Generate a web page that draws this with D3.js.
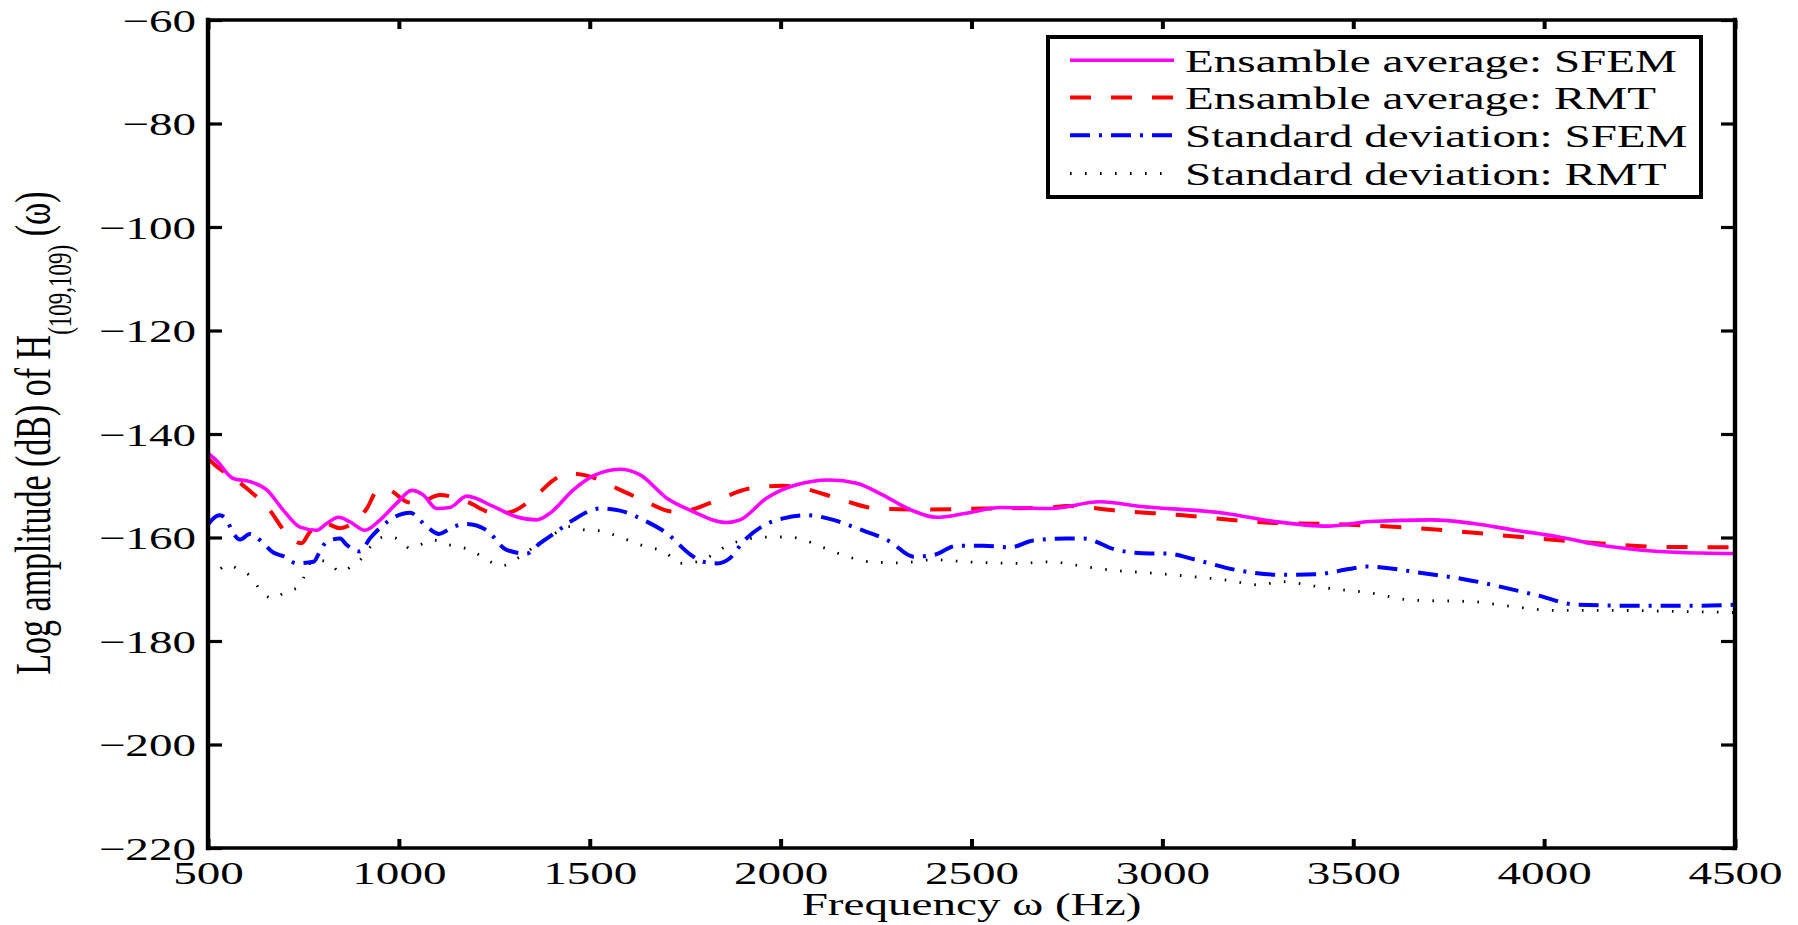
<!DOCTYPE html>
<html>
<head>
<meta charset="utf-8">
<script src="https://cdn.jsdelivr.net/npm/d3@7"></script>
<style>
  html, body { margin: 0; padding: 0; background: #fff; }
  svg { display: block; }
  text { font-family: "Liberation Serif", "DejaVu Serif", serif; fill: #000; }
</style>
</head>
<body>
<svg id="chart" width="1798" height="925"></svg>
<script>
// ---------------- DATA ----------------
const xTicks = [500, 1000, 1500, 2000, 2500, 3000, 3500, 4000, 4500];
const yTicks = [-60, -80, -100, -120, -140, -160, -180, -200, -220];

const seriesNames = [
  "Ensamble average: SFEM",
  "Ensamble average: RMT",
  "Standard deviation: SFEM",
  "Standard deviation: RMT"
];

const sfemAvgFreq = [500,523,566,610,654,697,741,785,811,842,872,911,951,994,1034,1064,1099,1134,1178,1247,1308,1361,1396,1457,1509,1579,1632,1702,1762,1858,1894,1963,2033,2129,2199,2268,2339,2408,2487,2575,2706,2837,2945,3163,3293,3434,3543,3706,3815,3924,4032,4141,4250,4359,4500];
const sfemAvgVal  = [-143.7,-145.2,-148.6,-149.2,-150.8,-154.7,-158.0,-158.6,-157.3,-156.1,-157.0,-158.6,-156.6,-153.4,-150.9,-151.8,-154.4,-154.2,-152.0,-154.0,-156.0,-156.6,-155.3,-150.8,-148.1,-146.8,-147.9,-152.4,-154.7,-157.1,-156.6,-152.4,-150.0,-148.9,-149.5,-151.8,-154.6,-156.1,-155.3,-154.2,-154.4,-153.1,-154.0,-155.3,-156.9,-157.8,-156.9,-156.6,-157.3,-158.6,-159.8,-161.4,-162.4,-162.9,-163.1];

const rmtAvgFreq = [500,523,575,601,654,706,745,767,806,846,889,916,942,968,1021,1047,1108,1178,1247,1282,1352,1405,1440,1509,1571,1640,1719,1762,1833,1920,2007,2059,2147,2252,2356,2531,2706,2749,2880,3054,3271,3445,3706,3924,4141,4304,4500];
const rmtAvgVal  = [-144.7,-146.3,-148.9,-150.5,-154.0,-159.2,-161.1,-158.9,-157.3,-158.2,-156.6,-154.4,-151.1,-150.7,-153.1,-153.4,-151.8,-153.1,-155.2,-155.2,-152.4,-148.9,-147.6,-148.4,-150.5,-152.8,-155.0,-154.7,-152.8,-150.5,-150.0,-150.5,-152.4,-154.4,-154.6,-154.4,-154.2,-153.9,-154.8,-155.7,-157.1,-157.4,-158.4,-159.8,-161.1,-161.8,-161.9];

const sfemStdFreq = [500,510,531,549,562,584,610,641,671,697,732,776,793,811,846,863,898,924,959,990,1029,1073,1105,1143,1178,1230,1282,1335,1370,1413,1457,1527,1579,1640,1702,1762,1797,1833,1867,1902,1963,2007,2068,2138,2199,2287,2348,2400,2461,2531,2601,2662,2749,2793,2880,2968,3011,3087,3195,3304,3402,3489,3532,3684,3793,3978,4087,4250,4413,4500];
const sfemStdVal  = [-157.5,-156.6,-155.7,-156.6,-158.6,-160.4,-159.3,-160.8,-162.9,-163.6,-165.0,-164.7,-162.7,-160.8,-160.2,-161.4,-162.7,-160.2,-157.6,-156.0,-155.2,-157.9,-159.3,-157.9,-157.4,-158.6,-162.4,-163.1,-161.1,-158.9,-156.6,-154.4,-154.8,-156.6,-159.2,-163.2,-164.7,-165.0,-164.0,-160.8,-157.4,-156.3,-155.7,-156.6,-158.2,-160.8,-163.7,-163.4,-161.6,-161.6,-161.9,-160.6,-160.2,-160.2,-162.4,-163.1,-163.1,-164.3,-166.3,-167.2,-167.1,-166.1,-165.6,-166.9,-168.1,-171.1,-173.0,-173.2,-173.2,-173.0];

const rmtStdFreq = [500,521,549,584,610,641,671,702,737,750,758,785,820,846,881,907,933,968,1003,1029,1090,1125,1160,1195,1230,1269,1304,1330,1361,1396,1448,1492,1527,1571,1632,1702,1736,1780,1815,1859,1902,1972,2016,2059,2094,2164,2234,2313,2400,2487,2618,2706,2793,2880,2959,3054,3163,3260,3304,3434,3543,3652,3815,3902,4032,4196,4359,4500];
const rmtStdVal  = [-167.5,-166.8,-165.3,-166.3,-167.4,-170.5,-171.8,-170.5,-169.6,-167.9,-165.9,-164.3,-165.1,-166.6,-165.3,-163.7,-161.1,-159.8,-160.5,-162.1,-160.5,-161.3,-161.8,-162.7,-164.3,-165.5,-164.3,-163.1,-161.4,-159.8,-157.9,-158.6,-158.7,-159.7,-161.4,-163.1,-165.0,-164.7,-163.6,-161.6,-160.5,-159.9,-159.9,-160.4,-161.4,-163.4,-164.7,-164.9,-164.3,-164.7,-165.0,-164.7,-165.6,-166.4,-166.8,-167.4,-168.2,-169.2,-168.5,-169.8,-170.7,-172.1,-172.4,-173.2,-174.1,-174.1,-174.3,-174.5];

// ---------------- LAYOUT / STYLE ----------------
const plot = { left: 208, right: 1735, top: 20, bottom: 848 };
const SX = 1.45;          // horizontal stretch of text in the reference
const FS = 32.5;

const styles = [
  { color: "#ff00ff", dash: null,            width: 3.6 },
  { color: "#ff0000", dash: "21,20",         width: 4 },
  { color: "#0000ff", dash: "20,9,3,9",      width: 4 },
  { color: "#000000", dash: "1.6,13.4",      width: 2.8 }
];

const svg = d3.select("#chart");
const x = d3.scaleLinear().domain([500, 4500]).range([plot.left, plot.right]);
const y = d3.scaleLinear().domain([-220, -60]).range([plot.bottom, plot.top]);

const series = [
  sfemAvgFreq.map((f, i) => [f, sfemAvgVal[i]]),
  rmtAvgFreq.map((f, i) => [f, rmtAvgVal[i]]),
  sfemStdFreq.map((f, i) => [f, sfemStdVal[i]]),
  rmtStdFreq.map((f, i) => [f, rmtStdVal[i]])
];

const line = d3.line().x(d => x(d[0])).y(d => y(d[1])).curve(d3.curveMonotoneX);

// draw series (dotted/dash-dot first so solid/dashed overlay)
[3, 2, 1, 0].forEach(i => {
  svg.append("path")
    .datum(series[i])
    .attr("d", line)
    .attr("fill", "none")
    .attr("stroke", styles[i].color)
    .attr("stroke-width", styles[i].width)
    .attr("stroke-dasharray", styles[i].dash)
    .attr("stroke-linejoin", "round");
});

const fmt = d => d < 0 ? "\u2212" + Math.abs(d) : String(d);

// bottom axis (inward ticks + labels)
const gB = svg.append("g").attr("transform", `translate(0,${plot.bottom})`)
  .call(d3.axisBottom(x).tickValues(xTicks).tickSizeInner(-9).tickSizeOuter(0).tickFormat(fmt));
gB.selectAll("text").attr("y", null).attr("dy", null)
  .attr("transform", `translate(0,36) scale(${SX},1)`)
  .style("font-size", FS + "px").attr("fill", "#000");

// top axis ticks
const gT = svg.append("g").attr("transform", `translate(0,${plot.top})`)
  .call(d3.axisTop(x).tickValues(xTicks).tickSizeInner(-9).tickSizeOuter(0).tickFormat(""));

// left axis
const gL = svg.append("g").attr("transform", `translate(${plot.left},0)`)
  .call(d3.axisLeft(y).tickValues(yTicks).tickSizeInner(-14).tickSizeOuter(0).tickFormat(fmt));
gL.selectAll("text").attr("x", null).attr("dy", null)
  .attr("transform", `translate(-12,11) scale(${SX},1)`)
  .attr("text-anchor", "end")
  .style("font-size", FS + "px").attr("fill", "#000");

// right axis ticks
const gR = svg.append("g").attr("transform", `translate(${plot.right},0)`)
  .call(d3.axisRight(y).tickValues(yTicks).tickSizeInner(-14).tickSizeOuter(0).tickFormat(""));

[gB, gT, gL, gR].forEach(g => {
  g.select(".domain").remove();
  g.attr("font-family", null).attr("font-size", null);
});
[gB, gT].forEach(g => g.selectAll(".tick line").attr("stroke", "#000").attr("stroke-width", 4));
[gL, gR].forEach(g => g.selectAll(".tick line").attr("stroke", "#000").attr("stroke-width", 3.2));

// box
const box = svg.append("g").attr("stroke", "#000").attr("stroke-linecap", "square");
box.append("line").attr("x1", plot.left).attr("x2", plot.right).attr("y1", plot.top).attr("y2", plot.top).attr("stroke-width", 3.6);
box.append("line").attr("x1", plot.left).attr("x2", plot.right).attr("y1", plot.bottom).attr("y2", plot.bottom).attr("stroke-width", 3.6);
box.append("line").attr("x1", plot.left).attr("x2", plot.left).attr("y1", plot.top).attr("y2", plot.bottom).attr("stroke-width", 4.4);
box.append("line").attr("x1", plot.right).attr("x2", plot.right).attr("y1", plot.top).attr("y2", plot.bottom).attr("stroke-width", 4.4);

// axis titles
svg.append("text")
  .attr("transform", `translate(${(plot.left + plot.right) / 2},915) scale(${SX},1)`)
  .attr("text-anchor", "middle")
  .style("font-size", FS + "px")
  .text("Frequency \u03c9 (Hz)");

const yt = svg.append("text")
  .attr("transform", `translate(50,433) scale(1.5,1) rotate(-90)`)
  .attr("text-anchor", "middle")
  .style("font-size", "34px");
yt.append("tspan").text("Log amplitude (dB) of H");
yt.append("tspan").attr("dy", 14).style("font-size", "23px").text("(109,109)");
yt.append("tspan").attr("dy", -14).text(" (\u03c9)");

// legend
const leg = { x1: 1048, y1: 37, x2: 1701, y2: 197 };
svg.append("rect")
  .attr("x", leg.x1).attr("y", leg.y1)
  .attr("width", leg.x2 - leg.x1).attr("height", leg.y2 - leg.y1)
  .attr("fill", "#fff").attr("stroke", "#000").attr("stroke-width", 4);

const rowBase = [71.7, 109, 146.7, 185];
seriesNames.forEach((name, i) => {
  svg.append("line")
    .attr("x1", 1070).attr("x2", 1174)
    .attr("y1", rowBase[i] - 11.5).attr("y2", rowBase[i] - 11.5)
    .attr("stroke", styles[i].color)
    .attr("stroke-width", styles[i].width)
    .attr("stroke-dasharray", styles[i].dash);
  svg.append("text")
    .attr("transform", `translate(1185,${rowBase[i]}) scale(${SX},1)`)
    .style("font-size", FS + "px")
    .text(name);
});
</script>
</body>
</html>
